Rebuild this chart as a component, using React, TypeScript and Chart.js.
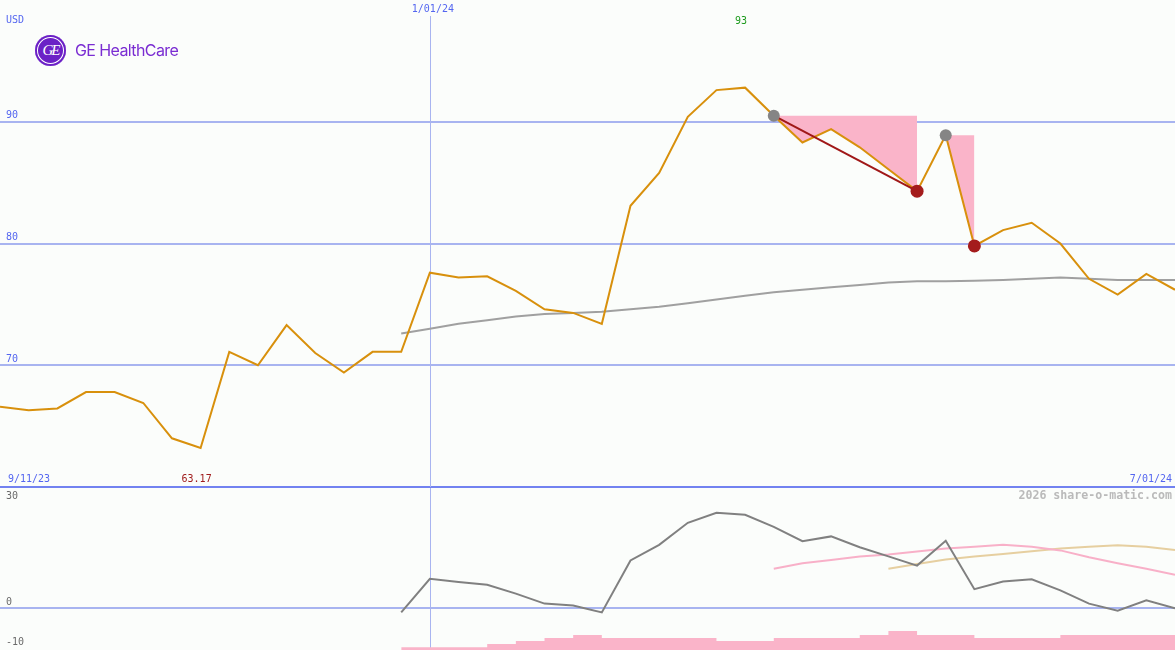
import React, { useEffect, useRef } from 'react';
import { Chart, registerables } from 'chart.js';

Chart.register(...registerables);

// ---------- data ----------
const weeks = [
  '9/18/23', '9/25/23', '10/02/23', '10/09/23', '10/16/23', '10/23/23', '10/30/23', '11/06/23',
  '11/13/23', '11/20/23', '11/27/23', '12/04/23', '12/11/23', '12/18/23', '12/25/23', '1/01/24',
  '1/08/24', '1/15/24', '1/22/24', '1/29/24', '2/05/24', '2/12/24', '2/19/24', '2/26/24',
  '3/04/24', '3/11/24', '3/18/24', '3/25/24', '4/01/24', '4/08/24', '4/15/24', '4/22/24',
  '4/29/24', '5/06/24', '5/13/24', '5/20/24', '5/27/24', '6/03/24', '6/10/24', '6/17/24',
  '6/24/24', '7/01/24',
];

const price = [
  66.6, 66.3, 66.45, 67.8, 67.8, 66.9, 64.0, 63.2, 71.1, 70.0,
  73.3, 71.0, 69.4, 71.1, 71.1, 77.6, 77.2, 77.3, 76.1, 74.6,
  74.3, 73.4, 83.1, 85.8, 90.4, 92.6, 92.8, 90.5, 88.3, 89.4,
  87.9, 86.1, 84.3, 88.9, 79.8, 81.1, 81.7, 80.0, 77.1, 75.8,
  77.5, 76.2,
];

const movingAvg = [
  null, null, null, null, null, null, null, null, null, null,
  null, null, null, null, 72.6, 73.0, 73.4, 73.7, 74.0, 74.2,
  74.3, 74.4, 74.6, 74.8, 75.1, 75.4, 75.7, 76.0, 76.2, 76.4,
  76.6, 76.8, 76.9, 76.9, 76.95, 77.0, 77.1, 77.2, 77.1, 77.0,
  77.0, 77.0,
];

const momentum = [
  null, null, null, null, null, null, null, null, null, null,
  null, null, null, null, -1.1, 7.3, 6.5, 5.8, 3.6, 1.1,
  0.6, -1.1, 11.9, 15.8, 21.3, 23.8, 23.3, 20.3, 16.7, 17.9,
  15.2, 12.9, 10.6, 16.8, 4.7, 6.6, 7.2, 4.4, 1.1, -0.7,
  1.9, -0.1,
];

const signalPink = [
  null, null, null, null, null, null, null, null, null, null,
  null, null, null, null, null, null, null, null, null, null,
  null, null, null, null, null, null, null, 9.8, 11.2, 12.0,
  12.9, 13.4, 14.1, 14.9, 15.3, 15.8, 15.3, 14.4, 12.7, 11.2,
  9.8, 8.3,
];

const signalTan = [
  null, null, null, null, null, null, null, null, null, null,
  null, null, null, null, null, null, null, null, null, null,
  null, null, null, null, null, null, null, null, null, null,
  null, 9.8, 11.0, 12.1, 12.9, 13.5, 14.2, 14.9, 15.3, 15.7,
  15.3, 14.5,
];

const volume = [
  null, null, null, null, null, null, null, null, null, null,
  null, null, null, null, 0.9, 0.9, 0.9, 2, 3, 4,
  5, 4, 4, 4, 4, 3, 3, 4, 4, 4,
  5, 6.3, 5, 5, 4, 4, 4, 5, 5, 5,
  5, 5,
];

// drawdowns: index of peak and index of trough
const drawdownStarts = [27, 33];
const drawdownEnds = [32, 34];

const yTicksPrice = [60, 70, 80, 90];
const yTicksLower = [0];
const lowerLabels = [30, 0, -10];
const markerIndex = 15; // 1/01/24
const rangeStartLabel = '9/11/23';
const rangeEndLabel = '7/01/24';
const markerLabel = '1/01/24';
const currencyLabel = 'USD';
const watermark = '2026 share-o-matic.com';
const lowLabel = '63.17';

// ---------- styles ----------
const ORANGE = '#d8900c';
const GRID = '#a8b4f0';
const DIVIDER = '#7282f0';
const BLUE_TEXT = '#5466f0';
const PINK = '#fab4c9';
const BG = '#fbfdfb';
const MONO = '"DejaVu Sans Mono", monospace';

const nullsExcept = (n: number, idx: number[], vals: number[]) => {
  const arr: (number | null)[] = new Array(n).fill(null);
  idx.forEach((i, k) => { arr[i] = vals[k]; });
  return arr;
};

export default function App() {
  const topRef = useRef<HTMLCanvasElement>(null);
  const botRef = useRef<HTMLCanvasElement>(null);

  useEffect(() => {
    const n = weeks.length;
    const hiIdx = price.indexOf(Math.max(...price));
    const loIdx = price.indexOf(Math.min(...price));

    const ddFills = drawdownStarts.map((s, k) => {
      const e = drawdownEnds[k];
      const arr: (number | null)[] = new Array(n).fill(null);
      for (let i = s; i <= e; i++) arr[i] = price[s];
      return {
        data: arr,
        borderWidth: 0,
        borderColor: 'transparent',
        backgroundColor: PINK,
        fill: 0,
        pointRadius: 0,
        order: 10,
      };
    });

    const redLine = nullsExcept(n, [drawdownStarts[0], drawdownEnds[0]], [price[drawdownStarts[0]], price[drawdownEnds[0]]]);
    const grayMarks = nullsExcept(n, drawdownStarts, drawdownStarts.map((i) => price[i]));
    const redMarks = nullsExcept(n, drawdownEnds, drawdownEnds.map((i) => price[i]));

    const topPlugin = {
      id: 'topDecor',
      beforeDatasetsDraw(chart: any) {
        const ctx = chart.ctx;
        const x = Math.round(chart.scales.x.getPixelForValue(markerIndex)) + 0.5;
        ctx.save();
        ctx.strokeStyle = GRID;
        ctx.lineWidth = 1;
        ctx.beginPath();
        ctx.moveTo(x, 16);
        ctx.lineTo(x, chart.chartArea.bottom);
        ctx.stroke();
        ctx.restore();
      },
      afterDatasetsDraw(chart: any) {
        const ctx = chart.ctx;
        const xs = chart.scales.x;
        const ys = chart.scales.y;
        ctx.save();
        ctx.textBaseline = 'middle';
        ctx.font = `10px ${MONO}`;
        ctx.fillStyle = BLUE_TEXT;
        ctx.textAlign = 'left';
        ctx.fillText(currencyLabel, 6, 20);
        [70, 80, 90].forEach((v) => ctx.fillText(String(v), 6, ys.getPixelForValue(v) - 6));
        ctx.fillText(rangeStartLabel, 8, chart.chartArea.bottom - 8);
        ctx.textAlign = 'right';
        ctx.fillText(rangeEndLabel, chart.chartArea.right - 3, chart.chartArea.bottom - 8);
        ctx.textAlign = 'center';
        ctx.fillText(markerLabel, xs.getPixelForValue(markerIndex) + 3, 9);
        ctx.fillStyle = '#1c9a1c';
        ctx.fillText(String(Math.round(price[hiIdx])), xs.getPixelForValue(hiIdx) - 4, 21);
        ctx.fillStyle = '#a01c1c';
        ctx.fillText(lowLabel, xs.getPixelForValue(loIdx) - 4, chart.chartArea.bottom - 8);
        ctx.restore();
      },
    };

    const top = new Chart(topRef.current!, {
      type: 'line',
      data: {
        labels: weeks,
        datasets: [
          { data: price, borderColor: ORANGE, borderWidth: 2, pointRadius: 0, order: 3, tension: 0 },
          { data: movingAvg, borderColor: '#a0a0a0', borderWidth: 2, pointRadius: 0, order: 5 },
          ...ddFills,
          { data: redLine, borderColor: '#a01818', borderWidth: 2, pointRadius: 0, spanGaps: true, order: 2 },
          { data: grayMarks, showLine: false, pointRadius: 6, pointBackgroundColor: '#858585', pointBorderWidth: 0, order: 1 },
          { data: redMarks, showLine: false, pointRadius: 6.5, pointBackgroundColor: '#a41c1c', pointBorderWidth: 0, order: 1 },
        ] as any,
      },
      options: {
        animation: false,
        responsive: false,
        devicePixelRatio: 1,
        layout: { autoPadding: false, padding: { left: 0, right: 0, top: 0, bottom: 1 } },
        plugins: { legend: { display: false }, tooltip: { enabled: false } },
        events: [],
        scales: {
          x: { type: 'category', display: false, offset: false },
          y: {
            type: 'linear', min: 60, max: 100, position: 'left',
            afterBuildTicks: (axis: any) => { axis.ticks = yTicksPrice.map((v) => ({ value: v })); },
            ticks: { display: false },
            border: { display: false },
            grid: {
              drawTicks: false,
              lineWidth: 2,
              color: (c: any) => (c.tick && c.tick.value === 60 ? DIVIDER : GRID),
            },
          },
        },
      } as any,
      plugins: [topPlugin],
    });

    const botPlugin = {
      id: 'botDecor',
      beforeDatasetsDraw(chart: any) {
        const ctx = chart.ctx;
        const x = Math.round(chart.scales.x.getPixelForValue(markerIndex)) + 0.5;
        ctx.save();
        ctx.strokeStyle = GRID;
        ctx.lineWidth = 1;
        ctx.beginPath();
        ctx.moveTo(x, 0);
        ctx.lineTo(x, chart.height);
        ctx.stroke();
        ctx.restore();
      },
      afterDatasetsDraw(chart: any) {
        const ctx = chart.ctx;
        const ys = chart.scales.y;
        ctx.save();
        ctx.textBaseline = 'middle';
        ctx.font = `10px ${MONO}`;
        ctx.fillStyle = '#6a6a6a';
        ctx.textAlign = 'left';
        lowerLabels.forEach((v, k) => {
          const py = k === 0 ? ys.getPixelForValue(v) + 8 : ys.getPixelForValue(v) - 6;
          ctx.fillText(String(v), 6, py);
        });
        ctx.textAlign = 'right';
        ctx.font = `bold 11.6px ${MONO}`;
        ctx.fillStyle = '#bababa';
        ctx.fillText(watermark, chart.chartArea.right - 3, 8);
        ctx.restore();
      },
    };

    const bot = new Chart(botRef.current!, {
      type: 'line',
      data: {
        labels: weeks,
        datasets: [
          { data: momentum, borderColor: '#808080', borderWidth: 2, pointRadius: 0, order: 1 },
          { data: signalPink, borderColor: '#f8b0c8', borderWidth: 2, pointRadius: 0, order: 2 },
          { data: signalTan, borderColor: '#e6cfa0', borderWidth: 2, pointRadius: 0, order: 2 },
          {
            data: volume, yAxisID: 'yv', stepped: true, borderWidth: 0, borderColor: 'transparent',
            backgroundColor: PINK, fill: 'start', pointRadius: 0, order: 3,
          },
        ] as any,
      },
      options: {
        animation: false,
        responsive: false,
        devicePixelRatio: 1,
        layout: { autoPadding: false, padding: 0 },
        plugins: { legend: { display: false }, tooltip: { enabled: false } },
        events: [],
        scales: {
          x: { type: 'category', display: false, offset: false },
          y: {
            type: 'linear', min: -10.5, max: 30, position: 'left',
            afterBuildTicks: (axis: any) => { axis.ticks = yTicksLower.map((v) => ({ value: v })); },
            ticks: { display: false },
            border: { display: false },
            grid: { drawTicks: false, lineWidth: 2, color: GRID },
          },
          yv: { type: 'linear', min: 0, max: 54, display: false },
        },
      } as any,
      plugins: [botPlugin],
    });

    return () => {
      top.destroy();
      bot.destroy();
    };
  }, []);

  return (
    <div style={{ position: 'fixed', left: 0, top: 0, width: 1175, height: 650, background: BG, overflow: 'hidden' }}>
      <canvas ref={topRef} width={1175} height={488} style={{ position: 'absolute', left: 0, top: 0 }} />
      <canvas ref={botRef} width={1175} height={162} style={{ position: 'absolute', left: 0, top: 488 }} />
      <div
        style={{
          position: 'absolute', left: 35, top: 35, width: 31, height: 31, borderRadius: '50%',
          background: '#6b21c6', boxShadow: 'inset 0 0 0 2px #6b21c6, inset 0 0 0 3px #ffffff',
          color: '#ffffff', fontFamily: 'serif', fontStyle: 'italic', fontSize: 15, lineHeight: '31px',
          textAlign: 'center', letterSpacing: -2,
        }}
      >
        GE
      </div>
      <div
        style={{
          position: 'absolute', left: 75, top: 40, fontFamily: 'Inter, "Open Sans", sans-serif',
          fontSize: 16, lineHeight: '20px', color: '#7a2dd2', letterSpacing: -0.6,
        }}
      >
        GE HealthCare
      </div>
    </div>
  );
}
